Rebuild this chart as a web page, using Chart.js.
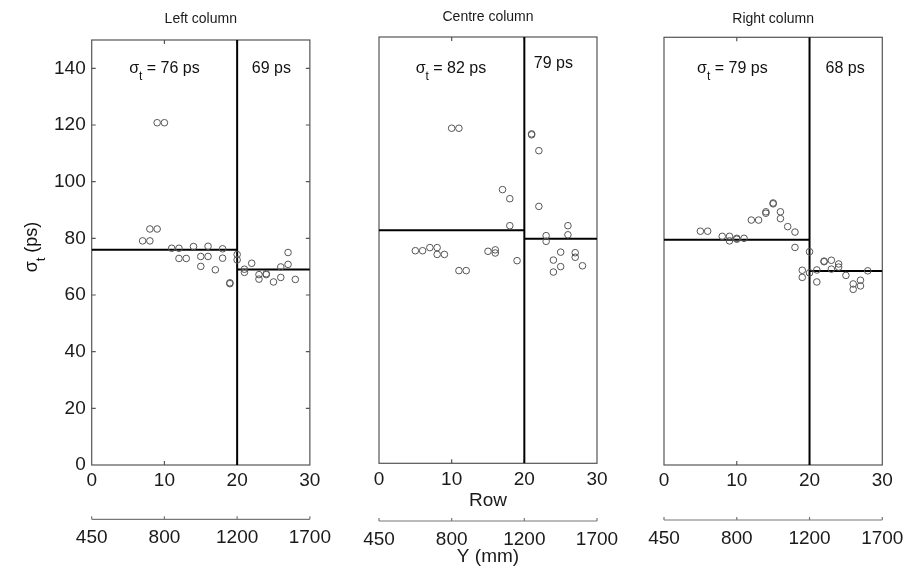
<!DOCTYPE html>
<html lang="en">
<head>
<meta charset="UTF-8">
<title>Timing resolution by column</title>
<script src="https://cdn.jsdelivr.net/npm/chart.js@4"></script>
<style>
  html, body { margin: 0; padding: 0; background: #fff; }
  body { width: 918px; height: 568px; position: relative; overflow: hidden; }
  .panel { position: absolute; top: 0; height: 568px; }
</style>
</head>
<body>
<div class="panel" style="left:0;width:340px"><canvas id="leftChart"></canvas></div>
<div class="panel" style="left:340px;width:290px"><canvas id="centreChart"></canvas></div>
<div class="panel" style="left:630px;width:288px"><canvas id="rightChart"></canvas></div>
<script>
// axis ticks
const rowTicks = [0, 10, 20, 30];
const mmTicks = ['450', '800', '1200', '1700'];
const sigmaTicks = [0, 20, 40, 60, 80, 100, 120, 140];
const boundaryRow = 20;

// left column
const leftRows  = [7, 8, 8, 9, 9, 10, 11, 12, 12, 13, 14, 15, 15, 16, 16, 17, 18, 18, 19, 19,
                   20, 20, 21, 21, 22, 23, 23, 24, 24, 25, 26, 26, 27, 27, 28];
const leftSigma = [79.1, 83.3, 79.1, 120.8, 83.3, 120.8, 76.5, 76.5, 72.9, 72.9, 77.1, 73.6, 70.1, 73.6, 77.2, 68.9, 76.3, 73.0, 64.3, 64.0,
                   74.3, 72.4, 69.1, 68.0, 71.2, 67.2, 65.6, 67.2, 67.5, 64.6, 69.9, 66.2, 75.0, 70.8, 65.5];
const leftMeans = [76, 69];

// centre column
const centreRows  = [5, 6, 7, 8, 8, 9, 10, 11, 11, 12, 15, 16, 16, 17, 18, 18, 19,
                     21, 21, 22, 22, 23, 23, 24, 24, 25, 25, 26, 26, 27, 27, 28];
const centreSigma = [74.8, 74.8, 75.9, 75.9, 73.5, 73.5, 117.9, 117.9, 67.8, 67.8, 74.6, 75.1, 74.0, 96.3, 93.1, 83.6, 71.3,
                     115.6, 115.9, 110.0, 90.4, 80.1, 78.1, 71.5, 67.3, 74.3, 69.2, 83.6, 80.4, 74.1, 72.5, 69.5];
const centreMeans = [82, 79];

// right column
const rightRows  = [5, 6, 8, 9, 9, 10, 10, 11, 12, 13, 14, 14, 15, 15, 16, 16, 17, 18, 18,
                    19, 19, 20, 20, 21, 21, 22, 22, 23, 23, 24, 24, 25, 26, 26, 27, 27, 28];
const rightSigma = [82.0, 82.0, 80.2, 80.2, 78.6, 79.5, 79.2, 79.5, 85.9, 85.9, 88.3, 88.8, 91.6, 91.9, 88.8, 86.4, 83.6, 81.7, 76.3,
                    68.3, 65.8, 74.8, 67.4, 68.4, 64.2, 71.3, 71.5, 71.8, 68.7, 70.5, 69.4, 66.5, 63.5, 61.6, 64.8, 62.8, 68.1];
const rightMeans = [79, 68];

const FONT = "'Liberation Sans', Arial, sans-serif";

// draws "σ" with subscript t followed by the rest of the text, centred on (cx, cy)
function drawSigmaText(ctx, cx, cy, rest, size) {
  ctx.font = size + 'px ' + FONT;
  const wS = ctx.measureText('\u03c3').width;
  const wR = ctx.measureText(rest).width;
  ctx.font = Math.round(size * 0.72) + 'px ' + FONT;
  const wT = ctx.measureText('t').width;
  let x = cx - (wS + wT + wR) / 2;
  ctx.textBaseline = 'middle';
  ctx.textAlign = 'left';
  ctx.font = size + 'px ' + FONT;
  ctx.fillText('\u03c3', x, cy);
  ctx.font = Math.round(size * 0.72) + 'px ' + FONT;
  ctx.fillText('t', x + wS, cy + size * 0.52);
  ctx.font = size + 'px ' + FONT;
  ctx.fillText(rest, x + wS + wT, cy);
}

const framePlugin = {
  id: 'frame',
  beforeDatasetsDraw(chart, args, opts) {
    const { ctx, chartArea: a, scales } = chart;
    ctx.save();
    ctx.strokeStyle = '#555';
    ctx.lineWidth = 1.2;
    ctx.strokeRect(a.left, a.top, a.right - a.left, a.bottom - a.top);
    ctx.beginPath();
    rowTicks.slice(1, -1).forEach(v => {
      const x = scales.x.getPixelForValue(v);
      ctx.moveTo(x, a.bottom); ctx.lineTo(x, a.bottom - 4);
      ctx.moveTo(x, a.top); ctx.lineTo(x, a.top + 4);
    });
    if (opts.yTicks) {
      sigmaTicks.slice(1).forEach(v => {
        const y = scales.y.getPixelForValue(v);
        ctx.moveTo(a.left, y); ctx.lineTo(a.left + 4, y);
        ctx.moveTo(a.right, y); ctx.lineTo(a.right - 4, y);
      });
    }
    ctx.stroke();
    // secondary Y (mm) axis line with small upward ticks
    const x2 = scales.x2;
    const yb = x2.top;
    ctx.strokeStyle = '#777';
    ctx.lineWidth = 1.2;
    ctx.beginPath();
    ctx.moveTo(x2.getPixelForValue(rowTicks[0]), yb);
    ctx.lineTo(x2.getPixelForValue(rowTicks[rowTicks.length - 1]), yb);
    rowTicks.forEach(v => {
      const x = x2.getPixelForValue(v);
      ctx.moveTo(x, yb); ctx.lineTo(x, yb - 3);
    });
    ctx.stroke();
    ctx.restore();
  },
  afterDraw(chart, args, opts) {
    const { ctx, scales } = chart;
    ctx.save();
    ctx.fillStyle = '#111';
    (opts.notes || []).forEach(n => {
      const x = scales.x.getPixelForValue(n.row);
      const y = scales.y.getPixelForValue(n.value);
      if (n.sigma) {
        drawSigmaText(ctx, x, y, n.text, 16);
      } else {
        ctx.font = '16px ' + FONT;
        ctx.textAlign = 'center';
        ctx.textBaseline = 'middle';
        ctx.fillText(n.text, x, y);
      }
    });
    if (opts.yTitle) {
      ctx.translate(opts.yTitle.x, opts.yTitle.y);
      ctx.rotate(-Math.PI / 2);
      drawSigmaText(ctx, 0, 0, ' (ps)', 18);
    }
    ctx.restore();
  }
};

function makePanel(id, p) {
  const points = p.rows.map((r, i) => ({ x: r, y: p.sigma[i] }));
  const tickFont = { family: FONT, size: 19, lineHeight: 1 };
  new Chart(document.getElementById(id), {
    type: 'scatter',
    data: {
      datasets: [
        {
          data: points,
          pointStyle: 'circle',
          pointRadius: 3.3,
          pointBorderWidth: 1,
          pointBorderColor: '#555',
          pointBackgroundColor: 'rgba(0,0,0,0)'
        },
        {
          data: [{ x: boundaryRow, y: 0 }, { x: boundaryRow, y: 150 }],
          showLine: true, borderColor: '#000', borderWidth: 2, pointRadius: 0
        },
        {
          data: [{ x: 0, y: p.means[0] }, { x: boundaryRow, y: p.means[0] }],
          showLine: true, borderColor: '#000', borderWidth: 2, pointRadius: 0
        },
        {
          data: [{ x: boundaryRow, y: p.means[1] }, { x: 30, y: p.means[1] }],
          showLine: true, borderColor: '#000', borderWidth: 2, pointRadius: 0
        }
      ]
    },
    options: {
      responsive: true,
      maintainAspectRatio: false,
      animation: false,
      events: [],
      layout: { padding: { left: p.padLeft, right: p.padRight, top: 0, bottom: 0 } },
      scales: {
        x: {
          type: 'linear', position: 'bottom', min: 0, max: 30, weight: 0,
          afterBuildTicks: s => { s.ticks = rowTicks.map(v => ({ value: v })); },
          afterFit: s => { s.height = p.xHeight; },
          grid: { display: false, drawTicks: false },
          border: { display: false },
          ticks: { color: '#1a1a1a', font: tickFont, padding: 6.5, maxRotation: 0 },
          title: {
            display: !!p.rowTitle, text: 'Row', color: '#1a1a1a',
            font: { family: FONT, size: 19, lineHeight: 1 }, padding: { top: 0, bottom: 11 }
          }
        },
        x2: {
          type: 'linear', position: 'bottom', min: 0, max: 30, weight: 1,
          afterBuildTicks: s => { s.ticks = rowTicks.map(v => ({ value: v })); },
          afterFit: s => { s.height = 568 - p.x2Top; },
          grid: { display: false, drawTicks: false },
          border: { display: false },
          ticks: {
            color: '#1a1a1a', font: tickFont, padding: 9, maxRotation: 0,
            callback: v => mmTicks[rowTicks.indexOf(v)]
          },
          title: {
            display: !!p.rowTitle, text: 'Y (mm)', color: '#1a1a1a',
            font: { family: FONT, size: 19, lineHeight: 1 }, padding: { top: 0, bottom: 2 }
          }
        },
        y: {
          type: 'linear', min: 0, max: 150,
          display: p.showY,
          afterBuildTicks: s => { s.ticks = sigmaTicks.map(v => ({ value: v })); },
          afterFit: s => { s.width = p.yWidth; },
          grid: { display: false, drawTicks: false },
          border: { display: false },
          ticks: { color: '#1a1a1a', font: tickFont, padding: 6 }
        }
      },
      plugins: {
        legend: { display: false },
        tooltip: { enabled: false },
        title: {
          display: true, text: p.title, color: '#1a1a1a', fullSize: false,
          font: { family: FONT, size: 14, weight: 'normal', lineHeight: 1.2 },
          padding: { top: p.titleTop, bottom: p.titleBottom }
        },
        frame: { yTicks: p.showY, notes: p.notes, yTitle: p.yTitle }
      }
    },
    plugins: [framePlugin]
  });
}

makePanel('leftChart', {
  title: 'Left column', rows: leftRows, sigma: leftSigma, means: leftMeans,
  padLeft: 0, padRight: 30, yWidth: 91.7, showY: true,
  titleTop: 10.4, titleBottom: 12.8, xHeight: 54.3, x2Top: 519.3,
  notes: [
    { row: 10, value: 140, sigma: true, text: ' = 76 ps' },
    { row: 24.7, value: 140, text: '69 ps' }
  ],
  yTitle: { x: 32, y: 247 }
});

makePanel('centreChart', {
  title: 'Centre column', rows: centreRows, sigma: centreSigma, means: centreMeans,
  padLeft: 39, padRight: 33, yWidth: 0, showY: false, rowTitle: true,
  titleTop: 8.4, titleBottom: 11.8, xHeight: 57.7, x2Top: 521,
  notes: [
    { row: 9.9, value: 139, sigma: true, text: ' = 82 ps' },
    { row: 24, value: 140.5, text: '79 ps' }
  ]
});

makePanel('rightChart', {
  title: 'Right column', rows: rightRows, sigma: rightSigma, means: rightMeans,
  padLeft: 34, padRight: 35.7, yWidth: 0, showY: false,
  titleTop: 10.5, titleBottom: 10, xHeight: 55, x2Top: 520,
  notes: [
    { row: 9.4, value: 139, sigma: true, text: ' = 79 ps' },
    { row: 24.9, value: 139, text: '68 ps' }
  ]
});
</script>
</body>
</html>
